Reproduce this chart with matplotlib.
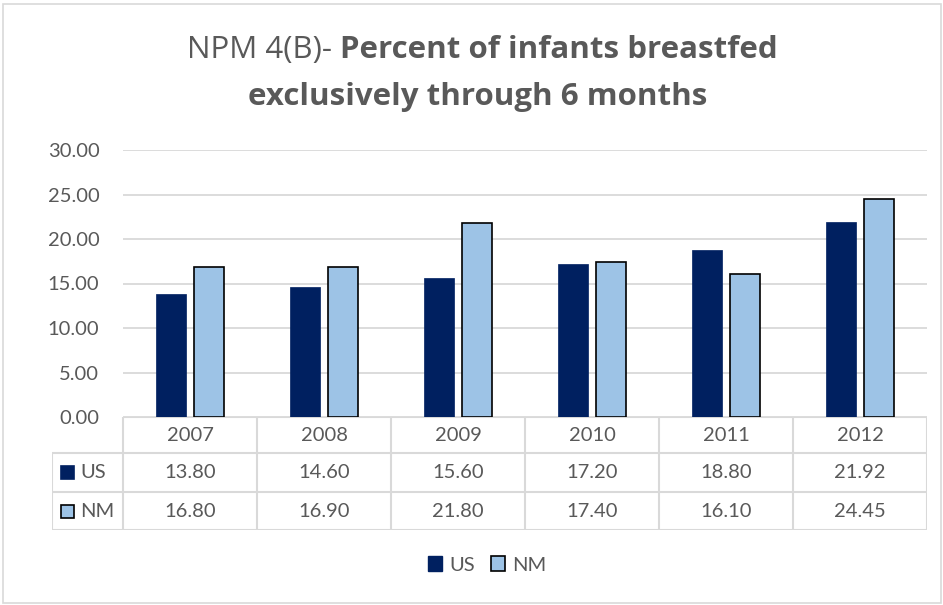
import matplotlib.pyplot as plt
from matplotlib.patches import Rectangle, Patch

plt.rcParams['font.family'] = ['Lato', 'DejaVu Sans']

years = ['2007', '2008', '2009', '2010', '2011', '2012']
us_vals = [13.80, 14.60, 15.60, 17.20, 18.80, 21.92]
nm_vals = [16.80, 16.90, 21.80, 17.40, 16.10, 24.45]
series_names = ['US', 'NM']
yticks = [0, 5, 10, 15, 20, 25, 30]

US_COLOR = '#002060'
NM_COLOR = '#9DC3E6'
GRID = '#d9d9d9'
TXT = '#595959'
FS = 14.5

W, H = 943, 605
fig = plt.figure(figsize=(W / 100, H / 100), dpi=100)


def fx(px):
    return px / W


def fy(py):
    return 1 - py / H


# outer chart border
fig.patches.append(Rectangle((fx(3), fy(603)), fx(938), 599 / H, transform=fig.transFigure,
                             fill=False, edgecolor=GRID, linewidth=1.2))

# plot area
left, right, top, bottom = 123, 927, 150, 417
ax = fig.add_axes([fx(left), fy(bottom), fx(right - left), (bottom - top) / H])
x = range(len(years))
bw = 0.225
off = 0.143
ax.bar([i - off for i in x], us_vals, width=bw, color=US_COLOR, edgecolor=US_COLOR, linewidth=0.5, zorder=3)
ax.bar([i + off for i in x], nm_vals, width=bw, color=NM_COLOR, edgecolor='black', linewidth=1.2, zorder=3)
ax.set_xlim(-0.5, 5.5)
ax.set_ylim(0, 30)
ax.set_yticks(yticks)
ax.set_yticklabels([f'{v:.2f}' for v in yticks], fontsize=FS, color=TXT)
ax.tick_params(axis='y', length=0, pad=17)
ax.set_xticks([])
ax.grid(axis='y', color=GRID, linewidth=1.3, zorder=0)
for s in ax.spines.values():
    s.set_visible(False)

# data table
tleft = 52
tab = fig.add_axes([fx(tleft), fy(530), fx(right - tleft), (530 - 417) / H])
cw = (right - left) / len(years)
tab.set_xlim(tleft, right)
tab.set_ylim(530, 417)
tab.axis('off')
rows = [417, 453, 492, 530]
lc = dict(color=GRID, linewidth=1.5, solid_capstyle='butt')
tab.plot([left, right], [rows[0], rows[0]], **lc)
for r in rows[1:]:
    tab.plot([tleft, right], [r, r], **lc)
tab.plot([tleft, tleft], [rows[1], rows[3]], **lc)
for i in range(len(years) + 1):
    xx = left + i * cw
    tab.plot([xx, xx], [rows[0], rows[3]], **lc)
for i, yr in enumerate(years):
    cx = left + (i + 0.5) * cw
    tab.text(cx, (rows[0] + rows[1]) / 2, yr, ha='center', va='center', fontsize=FS, color=TXT)
    tab.text(cx, (rows[1] + rows[2]) / 2, f'{us_vals[i]:.2f}', ha='center', va='center', fontsize=FS, color=TXT)
    tab.text(cx, (rows[2] + rows[3]) / 2, f'{nm_vals[i]:.2f}', ha='center', va='center', fontsize=FS, color=TXT)
# legend keys inside the table
for j, (name, fc, ec) in enumerate([(series_names[0], US_COLOR, US_COLOR), (series_names[1], NM_COLOR, 'black')]):
    cy = (rows[j + 1] + rows[j + 2]) / 2
    tab.add_patch(Rectangle((61, cy - 6.5), 13, 13, facecolor=fc, edgecolor=ec, linewidth=1.2))
    tab.text(80, cy, name, ha='left', va='center', fontsize=FS, color=TXT)

# legend at bottom
handles = [Patch(facecolor=US_COLOR, edgecolor=US_COLOR), Patch(facecolor=NM_COLOR, edgecolor='black', linewidth=1.2)]
fig.legend(handles, series_names, loc='center', bbox_to_anchor=(fx(487), fy(565)), ncol=2, frameon=False,
           fontsize=FS, labelcolor=TXT, handlelength=0.7, handleheight=0.7, handletextpad=0.35, columnspacing=0.8)

# title with mixed weights, fitted to the reference line width
fig.canvas.draw()
r = fig.canvas.get_renderer()
tf = ['Open Sans', 'DejaVu Sans']
t1 = fig.text(0, fy(50), 'NPM 4(B)- ', fontsize=20, family=tf, color=TXT, va='center')
t2 = fig.text(0, fy(50), 'Percent of infants breastfed', fontsize=20, family=tf, fontweight='bold',
              color=TXT, va='center')
t3 = fig.text(fx(478), fy(97), 'exclusively through 6 months', fontsize=20, family=tf, fontweight='bold',
              color=TXT, ha='center', va='center')
w = t1.get_window_extent(r).width + t2.get_window_extent(r).width
scale = 590 / w
for t in (t1, t2, t3):
    t.set_fontsize(20 * scale)
w1 = t1.get_window_extent(r).width
w2 = t2.get_window_extent(r).width
start = 482 - (w1 + w2) / 2
t1.set_x(fx(start))
t2.set_x(fx(start + w1))

fig.savefig('out.png', dpi=100)
